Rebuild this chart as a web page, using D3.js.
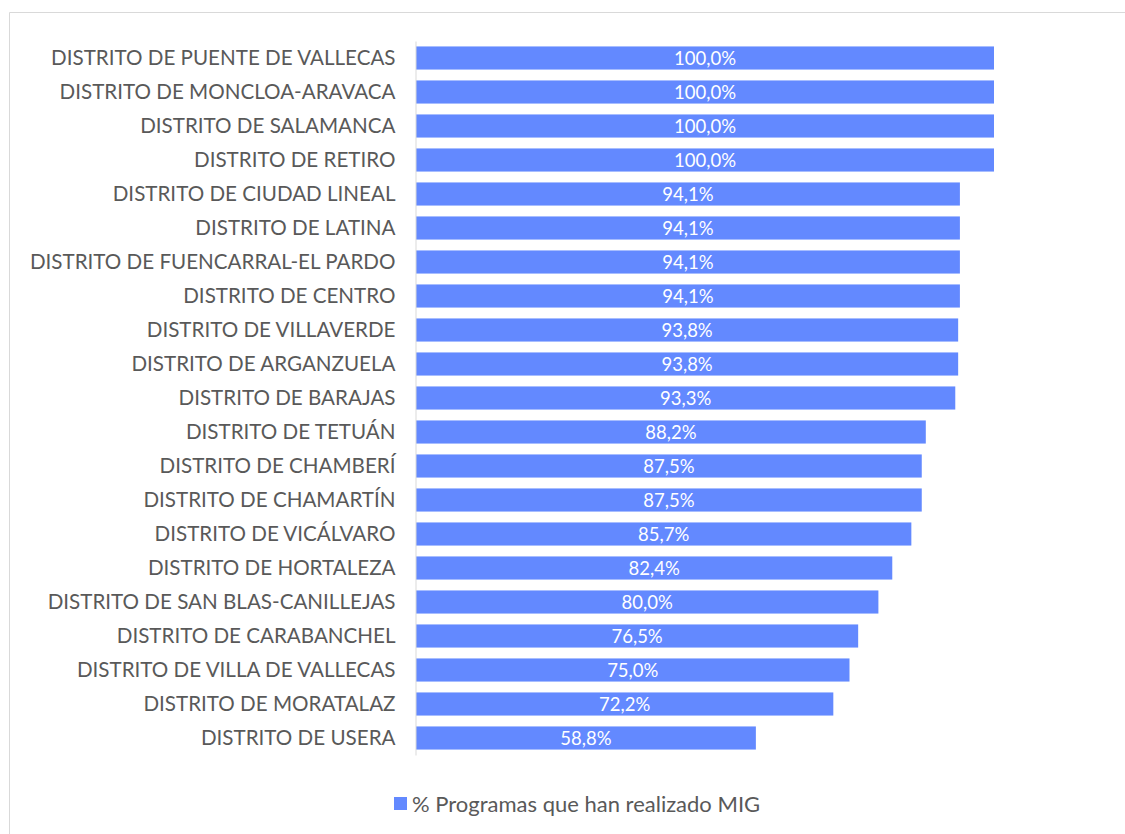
<!DOCTYPE html>
<html>
<head>
<meta charset="utf-8">
<script src="https://cdn.jsdelivr.net/npm/d3@7"></script>
<style>
  body { margin: 0; background: #fff; }
  svg { display: block; font-family: Lato, "Open Sans", sans-serif; }
</style>
</head>
<body>
<svg id="chart" width="1125" height="834"></svg>
<script>
const districts = [
  "DISTRITO DE PUENTE DE VALLECAS",
  "DISTRITO DE MONCLOA-ARAVACA",
  "DISTRITO DE SALAMANCA",
  "DISTRITO DE RETIRO",
  "DISTRITO DE CIUDAD LINEAL",
  "DISTRITO DE LATINA",
  "DISTRITO DE FUENCARRAL-EL PARDO",
  "DISTRITO DE CENTRO",
  "DISTRITO DE VILLAVERDE",
  "DISTRITO DE ARGANZUELA",
  "DISTRITO DE BARAJAS",
  "DISTRITO DE TETUÁN",
  "DISTRITO DE CHAMBERÍ",
  "DISTRITO DE CHAMARTÍN",
  "DISTRITO DE VICÁLVARO",
  "DISTRITO DE HORTALEZA",
  "DISTRITO DE SAN BLAS-CANILLEJAS",
  "DISTRITO DE CARABANCHEL",
  "DISTRITO DE VILLA DE VALLECAS",
  "DISTRITO DE MORATALAZ",
  "DISTRITO DE USERA"
];
const pctValues = [100.0, 100.0, 100.0, 100.0, 94.1, 94.1, 94.1, 94.1, 93.8, 93.8, 93.3,
  88.2, 87.5, 87.5, 85.7, 82.4, 80.0, 76.5, 75.0, 72.2, 58.8];
const seriesName = "% Programas que han realizado MIG";

const svg = d3.select("#chart");
const barColor = "#6389ff";
const textColor = "#595959";

// outer frame (only top and left edges fall inside the picture)
svg.append("line").attr("x1", 9.5).attr("x2", 1125).attr("y1", 12.5).attr("y2", 12.5)
  .attr("stroke", "#d9d9d9").attr("stroke-width", 1);
svg.append("line").attr("x1", 9.5).attr("x2", 9.5).attr("y1", 12.5).attr("y2", 834)
  .attr("stroke", "#d9d9d9").attr("stroke-width", 1);

const x = d3.scaleLinear().domain([0, 100]).range([416, 994]);
const y = d3.scaleBand().domain(districts).range([41, 755]).paddingInner(0.32).paddingOuter(0.16);

const fmt = v => v.toFixed(1).replace(".", ",") + "%";

const rows = svg.append("g");
rows.selectAll("rect").data(districts).enter().append("rect")
  .attr("x", x(0))
  .attr("y", d => y(d))
  .attr("width", (d, i) => x(pctValues[i]) - x(0))
  .attr("height", y.bandwidth())
  .attr("fill", barColor);

rows.selectAll("text.val").data(districts).enter().append("text")
  .attr("class", "val")
  .attr("x", (d, i) => (x(0) + x(pctValues[i])) / 2)
  .attr("y", d => y(d) + y.bandwidth() / 2)
  .attr("dy", "0.36em")
  .attr("text-anchor", "middle")
  .attr("fill", "#fff")
  .style("font-size", "18.5px")
  .text((d, i) => fmt(pctValues[i]));

const yAxis = svg.append("g")
  .attr("transform", `translate(${x(0) - 0.5},0)`)
  .call(d3.axisLeft(y).tickSize(0).tickPadding(20));
yAxis.select(".domain").attr("stroke", "#d9d9d9").attr("stroke-width", 1);
yAxis.selectAll("text").attr("fill", textColor).style("font-size", "20.6px")
  .style("font-family", "Lato, sans-serif");

// legend
const legend = svg.append("g").attr("transform", "translate(394,797)");
legend.append("rect").attr("width", 13).attr("height", 13).attr("fill", barColor);
legend.append("text").attr("x", 18).attr("y", 7).attr("dy", "0.36em")
  .attr("fill", textColor).style("font-size", "22px").text(seriesName);
</script>
</body>
</html>
